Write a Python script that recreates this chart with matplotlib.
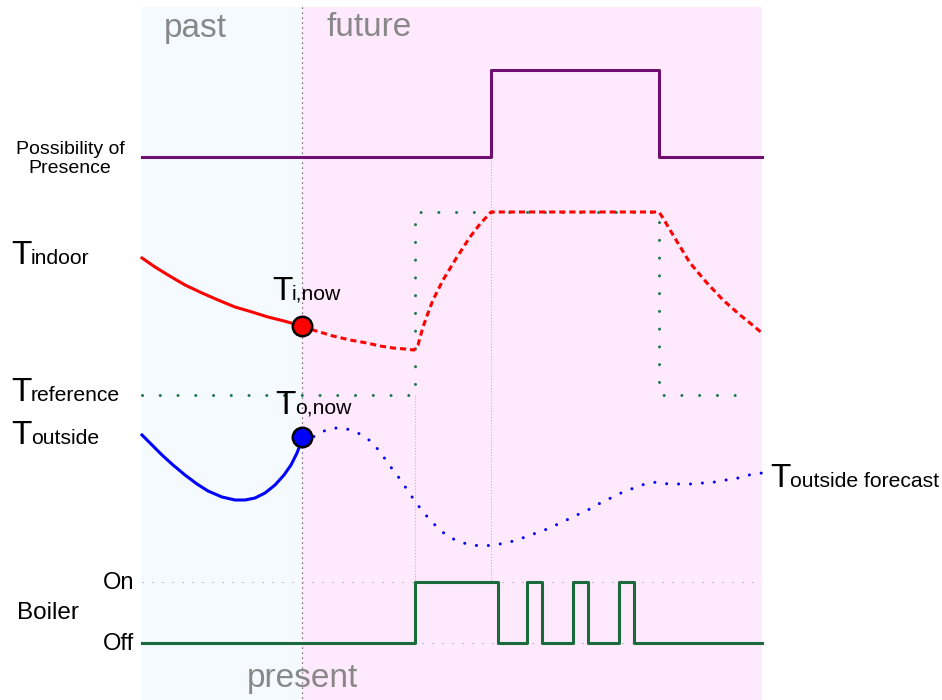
import matplotlib.pyplot as plt

plt.rcParams['font.family'] = ['Liberation Sans', 'DejaVu Sans']

# canvas units: x to the right, y downwards (figure is 942 x 700)
past_span = [142, 302]
future_span = [302, 762]
present_x = 302

# possibility of presence (step)
presence_x = [142, 491, 491, 659, 659, 762]
presence_y = [157, 157, 70, 70, 157, 157]

# indoor temperature
indoor_past_x = [142, 155, 168, 185, 202, 218, 235, 252, 268, 284, 302]
indoor_past_y = [258, 267, 275, 285, 293, 300, 307, 312, 317, 321, 326]
indoor_fut_x = [302, 313, 333, 350, 367, 380, 393, 405, 414, 418, 423, 428, 433, 443, 457, 470, 480, 491,
                659, 663, 673, 690, 707, 723, 740, 750, 762]
indoor_fut_y = [326, 330, 336, 340, 343, 346, 348, 349, 350, 345, 327, 313, 300, 280, 257, 237, 224, 212,
                212, 218, 235, 263, 283, 300, 315, 323, 333]

# reference temperature
ref_x = [142, 415, 415, 659, 659, 750]
ref_y = [395, 395, 212, 212, 395, 395]

# outside temperature
out_past_x = [142, 152, 162, 173, 185, 197, 208, 222, 235, 245, 255, 265, 275, 284, 291, 297, 302]
out_past_y = [435, 445, 455, 465, 475, 484, 491, 497, 500, 500, 498, 493, 485, 475, 465, 453, 440]
out_fut_x = [302, 313, 324, 335, 347, 358, 368, 376, 383, 390, 397, 404, 410, 417, 424, 432, 440, 449,
             460, 471, 483, 494, 506, 517, 528, 539, 550, 560, 571, 581, 592, 602, 613, 623, 634, 645,
             657, 668, 680, 692, 703, 715, 726, 738, 749, 762]
out_fut_y = [437, 437, 431, 428, 429, 433, 439, 447, 456, 466, 475, 485, 494, 504, 513, 522, 530, 537,
             542, 545, 546, 545, 543, 540, 536, 532, 528, 523, 518, 513, 508, 502, 497, 492, 488, 484,
             482, 484, 484, 484, 483, 482, 480, 478, 475, 473]

# current measurements
t_in_now = (302, 326)
t_out_now = (302, 437)

# boiler switching
boiler_x = [142, 415, 415, 498, 498, 527, 527, 542, 542, 573, 573, 588, 588, 619, 619, 634, 634, 762]
boiler_y = [643, 643, 582, 582, 643, 643, 582, 582, 643, 643, 582, 582, 643, 643, 582, 582, 643, 643]
boiler_on, boiler_off = 582, 643

fig = plt.figure(figsize=(9.42, 7), dpi=100)
ax = fig.add_axes([0, 0, 1, 1])
ax.set_xlim(0, 942)
ax.set_ylim(700, 0)
ax.axis('off')

# background regions
ax.axvspan(*past_span, ymin=0, ymax=1 - 7 / 700, color='#f4faff', lw=0, zorder=0)
ax.axvspan(*future_span, ymin=0, ymax=1 - 7 / 700, color='#ffe9fd', lw=0, zorder=0)

# guide lines
ax.plot([present_x, present_x], [7, 700], color='#555555', lw=0.9, ls=(0, (1, 3)), zorder=1)
ax.plot([491, 491], [157, 582], color='#b8a8b8', lw=0.7, ls=(0, (1, 2)), zorder=1)
ax.plot([415, 415], [395, 582], color='#b8a8b8', lw=0.7, ls=(0, (1, 2)), zorder=1)
for yv in (boiler_on, boiler_off):
    ax.plot([142, 762], [yv, yv], color='#999999', lw=0.8, ls=(0, (1, 8)), zorder=1)

ax.plot(presence_x, presence_y, color='#6f1070', lw=2.2, zorder=3)

ax.plot(ref_x, ref_y, color='#1f7a50', lw=2.2, ls=(0, (0.01, 5.8)),
        dash_capstyle='round', zorder=2)

ax.plot(indoor_past_x, indoor_past_y, color='#ff0000', lw=2.2, zorder=3)
ax.plot(indoor_fut_x, indoor_fut_y, color='#ff0000', lw=2.2, ls=(0, (2, 1.3)), zorder=3)

ax.plot(out_past_x, out_past_y, color='#0000ff', lw=2.2, zorder=3)
ax.plot(out_fut_x, out_fut_y, color='#0000ff', lw=2.2, ls=(0, (0.01, 3.9)),
        dash_capstyle='round', zorder=3)

ax.plot(boiler_x, boiler_y, color='#1a6b3c', lw=2.2, zorder=3)

ax.plot([t_in_now[0]], [t_in_now[1]], 'o', ms=14, mfc='#ff0000', mec='black', mew=1.8, zorder=4)
ax.plot([t_out_now[0]], [t_out_now[1]], 'o', ms=14, mfc='#0000ff', mec='black', mew=1.8, zorder=4)


def tlabel(x, y, sub):
    # large T followed by a smaller word on the same baseline
    ax.text(x, y, 'T', fontsize=24, ha='left', va='baseline', zorder=5)
    ax.text(x + 20, y, sub, fontsize=15.2, ha='left', va='baseline', zorder=5)


tlabel(11, 264, 'indoor')
tlabel(11, 401, 'reference')
tlabel(11, 444, 'outside')
tlabel(272, 300, 'i,now')
tlabel(275, 414, 'o,now')
tlabel(770, 487, 'outside forecast')

ax.text(70, 159, 'Possibility of\nPresence', fontsize=14, ha='center', va='center',
        linespacing=1.1)
ax.text(48, 613, 'Boiler', fontsize=17.5, ha='center', va='center')
ax.text(134, 583, 'On', fontsize=17, ha='right', va='center')
ax.text(134, 644, 'Off', fontsize=17, ha='right', va='center')

ax.text(195, 28, 'past', fontsize=24, color='#888888', ha='center', va='center')
ax.text(369, 28, 'future', fontsize=24, color='#888888', ha='center', va='center')
ax.text(302, 679, 'present', fontsize=24, color='#888888', ha='center', va='center')

fig.savefig('out.png', dpi=100)
